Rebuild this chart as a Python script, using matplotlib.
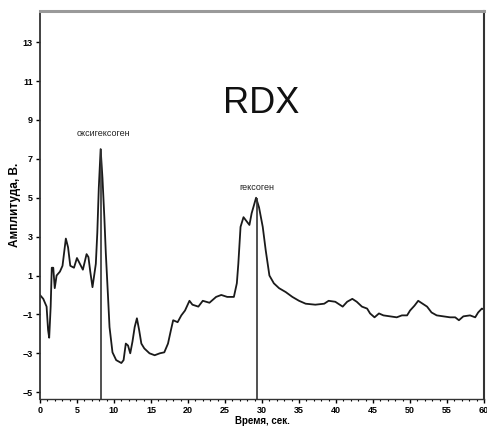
import matplotlib
matplotlib.use("Agg")
import matplotlib.pyplot as plt
from matplotlib.ticker import MultipleLocator

# Time (s) and amplitude (V)
time_s = [0.0, 0.45, 0.9, 1.1, 1.25, 1.45, 1.6, 1.8, 2.0, 2.25, 2.7, 3.05, 3.5, 3.8,
          4.1, 4.6, 5.0, 5.4, 5.8, 6.3, 6.55, 6.8, 7.1, 7.55, 7.75, 7.95, 8.2, 8.45,
          8.7, 8.9, 9.2, 9.4, 9.8, 10.3, 11.0, 11.3, 11.6, 11.9, 12.2, 12.5, 12.8,
          13.1, 13.4, 13.7, 14.1, 14.8, 15.5, 16.2, 16.8, 17.3, 17.7, 18.0, 18.6,
          19.1, 19.6, 20.2, 20.6, 21.4, 22.0, 22.9, 23.8, 24.5, 25.3, 26.2, 26.6,
          26.8, 27.1, 27.5, 28.0, 28.3, 28.6, 29.2, 29.6, 30.1, 30.5, 31.0, 31.6,
          32.3, 33.2, 34.1, 35.0, 35.9, 37.2, 38.4, 39.0, 39.9, 40.9, 41.5, 42.2,
          42.8, 43.5, 44.2, 44.6, 45.2, 45.8, 46.4, 47.3, 48.2, 48.9, 49.6, 50.0,
          50.6, 51.1, 51.7, 52.3, 52.9, 53.6, 54.5, 55.4, 56.1, 56.6, 57.2, 58.1,
          58.8, 59.2, 59.7, 60.0]
amplitude = [0.0, -0.2, -0.6, -1.8, -2.2, -0.6, 1.4, 1.4, 0.35, 1.0, 1.2, 1.5, 2.9, 2.45,
             1.5, 1.4, 1.9, 1.6, 1.3, 2.1, 1.95, 1.2, 0.4, 1.6, 3.2, 5.5, 7.5, 6.0,
             4.0, 2.15, -0.1, -1.65, -2.95, -3.35, -3.5, -3.35, -2.5, -2.6, -3.0, -2.4, -1.65,
             -1.2, -1.8, -2.5, -2.75, -3.0, -3.1, -3.0, -2.95, -2.5, -1.8, -1.3, -1.4,
             -1.05, -0.8, -0.3, -0.5, -0.6, -0.3, -0.4, -0.1, 0.0, -0.1, -0.1, 0.6,
             1.6, 3.5, 4.0, 3.75, 3.6, 4.2, 5.0, 4.5, 3.5, 2.3, 1.0, 0.6,
             0.35, 0.15, -0.1, -0.3, -0.45, -0.5, -0.45, -0.3, -0.35, -0.6, -0.35, -0.2,
             -0.35, -0.6, -0.7, -0.95, -1.15, -0.95, -1.05, -1.1, -1.15, -1.05, -1.05, -0.8,
             -0.55, -0.3, -0.45, -0.6, -0.9, -1.05, -1.1, -1.15, -1.15, -1.3, -1.1, -1.05,
             -1.15, -0.9, -0.7, -0.75]

peak_times = [8.2, 29.3]
peak_heights = [7.5, 5.0]
peak_labels = ["оксигексоген", "гексоген"]
peak_label_pos = [(8.6, 8.3), (29.3, 5.55)]

x_ticks = [0, 5, 10, 15, 20, 25, 30, 35, 40, 45, 50, 55, 60]
y_ticks = [13, 11, 9, 7, 5, 3, 1, -1, -3, -5]

title_text = "RDX"
x_label = "Время, сек."
y_label = "Амплитуда, В."

plt.rcParams['font.family'] = ['Liberation Sans Narrow', 'Liberation Sans', 'DejaVu Sans']

fig = plt.figure(figsize=(4.87, 4.32), dpi=100)
ax = fig.add_axes([0.082, 0.0764, 0.912, 0.898])

ax.plot(time_s, amplitude, color='#1a1a1a', lw=1.3)
ymin = -5.35
for t, h in zip(peak_times, peak_heights):
    ax.vlines(t, ymin, h, color='#333333', lw=1.2)
for lab, (tx, ty) in zip(peak_labels, peak_label_pos):
    ax.text(tx, ty, lab, ha='center', va='center', fontsize=6.5, color='#222222')

ax.text(29.9, 9.86, title_text, ha='center', va='center', fontsize=26,
        family=['Liberation Sans', 'DejaVu Sans'], color='#111111')

ax.set_xlim(0, 60)
ax.set_ylim(ymin, 14.6)
ax.set_xticks(x_ticks)
ax.set_yticks(y_ticks)
ax.xaxis.set_minor_locator(MultipleLocator(1))
ax.tick_params(axis='both', which='major', labelsize=6.5, length=3, width=1, pad=2)
ax.tick_params(axis='both', which='minor', length=1.5, width=0.8)
for lbl in ax.get_xticklabels() + ax.get_yticklabels():
    lbl.set_fontweight('bold')

ax.set_xlabel(x_label, fontsize=7, fontweight='bold', labelpad=1)
ax.set_ylabel(y_label, fontsize=8.5, fontweight='bold')
ax.yaxis.set_label_coords(-0.042, 0.5)

ax.spines['top'].set_color('#9a9a9a')
ax.spines['top'].set_linewidth(2.2)
ax.spines['right'].set_color('#333333')
ax.spines['right'].set_linewidth(1.5)
ax.spines['left'].set_color('#333333')
ax.spines['left'].set_linewidth(1.3)
ax.spines['bottom'].set_color('#333333')
ax.spines['bottom'].set_linewidth(1.0)

fig.savefig("out.png", dpi=100)
